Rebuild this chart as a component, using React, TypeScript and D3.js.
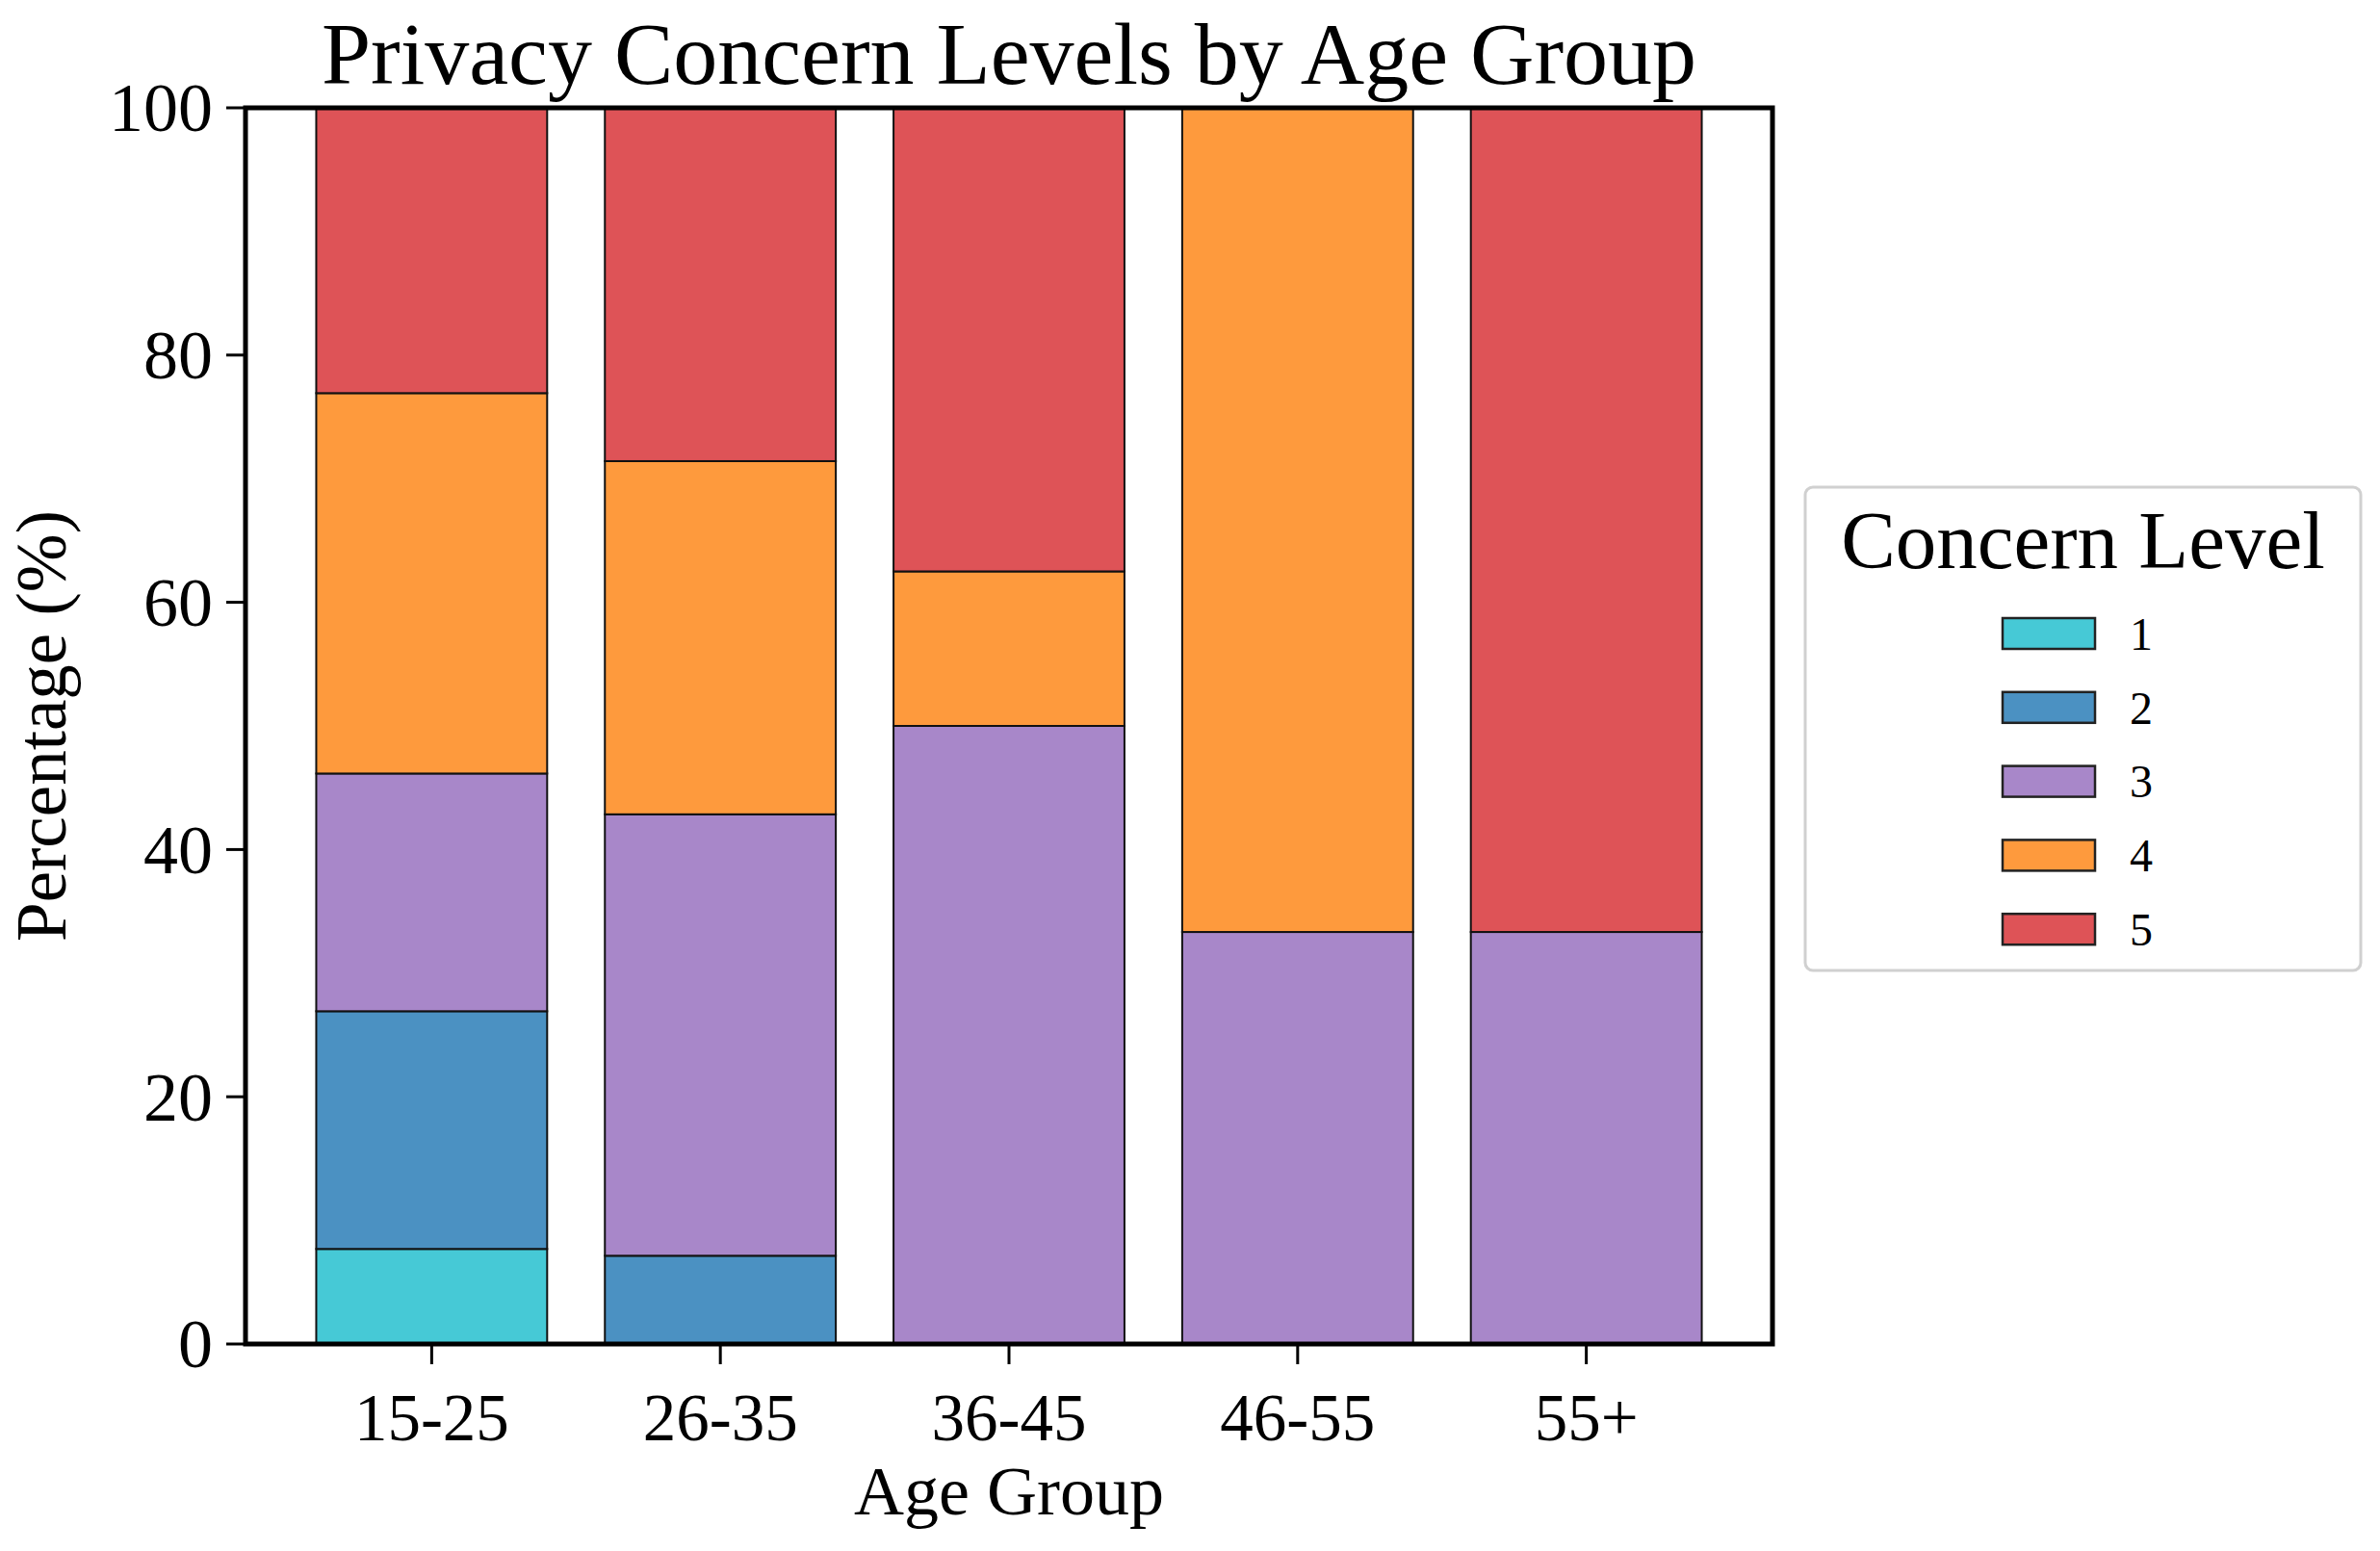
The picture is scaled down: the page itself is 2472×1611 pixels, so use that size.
import React from 'react';
import * as d3 from 'd3';

// age groups on the x axis
const ageGroups = ['15-25', '26-35', '36-45', '46-55', '55+'];
const levels = ['1', '2', '3', '4', '5'];

// share of respondents (%) per concern level, one entry per age group
const level1 = [7.69, 0, 0, 0, 0];
const level2 = [19.23, 7.14, 0, 0, 0];
const level3 = [19.23, 35.71, 50, 33.33, 33.33];
const level4 = [30.77, 28.57, 12.5, 66.67, 0];
const level5 = [23.08, 28.57, 37.5, 0, 66.67];

const yTicks = [0, 20, 40, 60, 80, 100];
const levelColors = ['#46c9d6', '#4b91c2', '#a887c9', '#fe9a3d', '#de5357'];

const W = 2472;
const H = 1611;
const font = '"Liberation Serif", "Times New Roman", serif';

const App: React.FC = () => {
  const margin = { left: 255, right: 1841, top: 112, bottom: 1396 };

  const x = d3.scaleLinear()
    .domain([-0.645, ageGroups.length - 1 + 0.645])
    .range([margin.left, margin.right]);
  const y = d3.scaleLinear().domain([0, 100]).range([margin.bottom, margin.top]);
  const color = d3.scaleOrdinal<string, string>().domain(levels).range(levelColors);

  const table = ageGroups.map((g, i) => ({
    group: g,
    idx: i,
    '1': level1[i],
    '2': level2[i],
    '3': level3[i],
    '4': level4[i],
    '5': level5[i],
  }));
  const series = d3.stack<any>().keys(levels)(table);
  const barW = x(0.4) - x(-0.4);

  const legend = { x0: 1875, x1: 2452, y0: 506, y1: 1008 };
  const rowY = (i: number) => 658 + i * 76.8;

  return (
    <svg width={W} height={H} style={{ display: 'block', marginTop: -8, marginLeft: -8 }}>
      <rect width={W} height={H} fill="#fff" />

      {/* stacked bars */}
      {series.map((s, si) => (
        <g key={s.key}>
          {s.map((d, i) => {
            if (d[1] - d[0] <= 0) return null;
            return (
              <rect
                key={i}
                x={x(i) - barW / 2}
                y={y(d[1])}
                width={barW}
                height={y(d[0]) - y(d[1])}
                fill={color(levels[si])}
                stroke="#111"
                strokeWidth={2}
              />
            );
          })}
        </g>
      ))}

      {/* y ticks */}
      {yTicks.map(t => (
        <g key={t}>
          <line x1={margin.left - 20} x2={margin.left} y1={y(t)} y2={y(t)} stroke="#000" strokeWidth={3} />
          <text x={margin.left - 34} y={y(t)} dy="0.34em" textAnchor="end" fontFamily={font} fontSize={72}>
            {t}
          </text>
        </g>
      ))}

      {/* x ticks */}
      {ageGroups.map((g, i) => (
        <g key={g}>
          <line x1={x(i)} x2={x(i)} y1={margin.bottom} y2={margin.bottom + 21} stroke="#000" strokeWidth={3} />
          <text x={x(i)} y={1496} textAnchor="middle" fontFamily={font} fontSize={69}>
            {g}
          </text>
        </g>
      ))}

      {/* frame */}
      <rect
        x={margin.left}
        y={margin.top}
        width={margin.right - margin.left}
        height={margin.bottom - margin.top}
        fill="none"
        stroke="#000"
        strokeWidth={5}
      />

      {/* titles */}
      <text x={(margin.left + margin.right) / 2} y={87} textAnchor="middle" fontFamily={font} fontSize={92}>
        Privacy Concern Levels by Age Group
      </text>
      <text x={(margin.left + margin.right) / 2} y={1573} textAnchor="middle" fontFamily={font} fontSize={72}>
        Age Group
      </text>
      <text
        transform={`translate(68,${(margin.top + margin.bottom) / 2}) rotate(-90)`}
        textAnchor="middle"
        fontFamily={font}
        fontSize={73}
      >
        Percentage (%)
      </text>

      {/* legend */}
      <rect
        x={legend.x0}
        y={legend.y0}
        width={legend.x1 - legend.x0}
        height={legend.y1 - legend.y0}
        rx={8}
        fill="#fff"
        stroke="#d0d0d0"
        strokeWidth={3}
      />
      <text x={(legend.x0 + legend.x1) / 2} y={590} textAnchor="middle" fontFamily={font} fontSize={85}>
        Concern Level
      </text>
      {levels.map((l, i) => (
        <g key={l}>
          <rect x={2080} y={rowY(i) - 16} width={96} height={32} fill={color(l)} stroke="#222" strokeWidth={2.5} />
          <text x={2212} y={rowY(i)} dy="0.35em" fontFamily={font} fontSize={48}>
            {l}
          </text>
        </g>
      ))}
    </svg>
  );
};

export default App;
